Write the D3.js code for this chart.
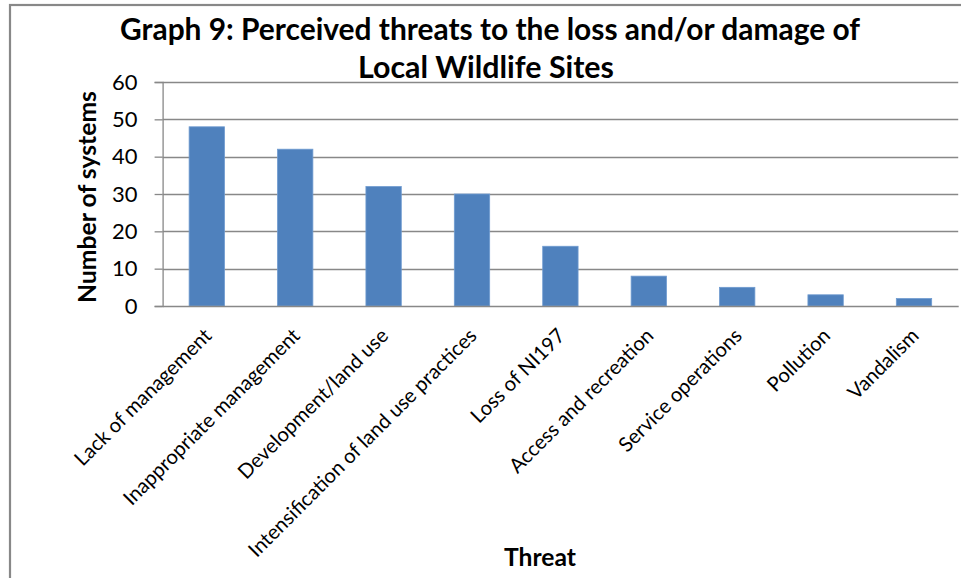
<!DOCTYPE html>
<html>
<head>
<meta charset="utf-8">
<script src="https://cdn.jsdelivr.net/npm/d3@7"></script>
<style>
  html, body { margin: 0; padding: 0; background: #fff; }
  svg { display: block; }
  text { font-family: Lato, "Open Sans", sans-serif; fill: #000; }
</style>
</head>
<body>
<svg id="chart" width="961" height="578"></svg>
<script>
const categories = ["Lack of management", "Inappropriate management", "Development/land use",
  "Intensification of land use practices", "Loss of NI197", "Access and recreation",
  "Service operations", "Pollution", "Vandalism"];
const values = [48, 42, 32, 30, 16, 8, 5, 3, 2];
const yTicks = [0, 10, 20, 30, 40, 50, 60];
const titleLines = ["Graph 9: Perceived threats to the loss and/or damage of", "Local Wildlife Sites"];
const yTitle = "Number of systems";
const xTitle = "Threat";

const svg = d3.select("#chart");
const plot = { left: 162.6, right: 958.2, top: 82, bottom: 306 };
const grey = "#888888";

// outer chart border (only left/top visible in the crop)
svg.append("rect").attr("x", 10).attr("y", 5).attr("width", 1000).attr("height", 700)
  .attr("fill", "none").attr("stroke", grey).attr("stroke-width", 2.2);

const x = d3.scaleBand().domain(categories).range([plot.left, plot.right])
  .paddingInner(0.6).paddingOuter(0.3);
const y = d3.scaleLinear().domain([0, 60]).range([plot.bottom, plot.top]);

function fit(sel, target) {
  sel.each(function() {
    const fs = parseFloat(this.getAttribute("font-size"));
    const w = this.getComputedTextLength();
    if (w > 0) this.setAttribute("font-size", (fs * target / w).toFixed(2));
  });
}

// gridlines
svg.append("g").selectAll("line").data(yTicks.filter(d => d > 0)).join("line")
  .attr("x1", plot.left).attr("x2", plot.right)
  .attr("y1", d => Math.round(y(d)) + 0.5).attr("y2", d => Math.round(y(d)) + 0.5)
  .attr("stroke", grey).attr("stroke-width", 1.3);

// bars
svg.append("g").selectAll("rect").data(values).join("rect")
  .attr("x", (d, i) => x(categories[i]))
  .attr("y", d => y(d))
  .attr("width", x.bandwidth())
  .attr("height", d => y(0) - y(d))
  .attr("fill", "#4F81BD")
  .attr("stroke", "#6f9bd0").attr("stroke-width", 0.8);

// y axis
const yAxis = d3.axisLeft(y).tickValues(yTicks).tickSize(8).tickPadding(17);
const gy = svg.append("g").attr("transform", `translate(${plot.left},0)`).call(yAxis);
gy.select(".domain").attr("stroke", grey).attr("stroke-width", 1.3);
gy.selectAll(".tick line").attr("stroke", grey).attr("stroke-width", 1.3);
gy.selectAll(".tick text").attr("font-size", 22).attr("font-family", "Lato, sans-serif").attr("fill", "#000");
(function(){
  const t = gy.selectAll(".tick text").filter(d => d === 60).node();
  const w = t.getComputedTextLength();
  gy.selectAll(".tick text").attr("font-size", (22 * 25.5 / w).toFixed(2));
})();

// x axis baseline
const xAxis = d3.axisBottom(x).tickSize(0).tickFormat("");
const gx = svg.append("g").attr("transform", `translate(0,${plot.bottom})`).call(xAxis);
gx.select(".domain").attr("stroke", grey).attr("stroke-width", 1.3);

// x category labels rotated -45
const xl = svg.append("g").selectAll("text").data(categories).join("text")
  .attr("text-anchor", "end")
  .attr("font-size", 18)
  .attr("transform", d => `translate(${x(d) + x.bandwidth() / 2 + 6},${plot.bottom + 31}) rotate(-45)`)
  .text(d => d);
(function(){
  const n = xl.filter(d => d === categories[0]).node();
  const w = n.getComputedTextLength();
  xl.attr("font-size", (18 * 184 / w).toFixed(2));
})();

// title
const tl = svg.append("g").selectAll("text").data(titleLines).join("text")
  .attr("x", (d, i) => i === 0 ? 490 : 486)
  .attr("y", (d, i) => i === 0 ? 40 : 78)
  .attr("text-anchor", "middle").attr("font-weight", "bold").attr("font-size", 26)
  .text(d => d);
fit(tl.filter((d, i) => i === 0), 740);
fit(tl.filter((d, i) => i === 1), 256);

// y axis title
const yt = svg.append("text")
  .attr("transform", `translate(96,197) rotate(-90)`)
  .attr("text-anchor", "middle").attr("font-weight", "bold").attr("font-size", 24)
  .text(yTitle);
fit(yt, 212);

// x axis title
const xt = svg.append("text")
  .attr("x", 540).attr("y", 566)
  .attr("text-anchor", "middle").attr("font-weight", "bold").attr("font-size", 24)
  .text(xTitle);
fit(xt, 72);
</script>
</body>
</html>
